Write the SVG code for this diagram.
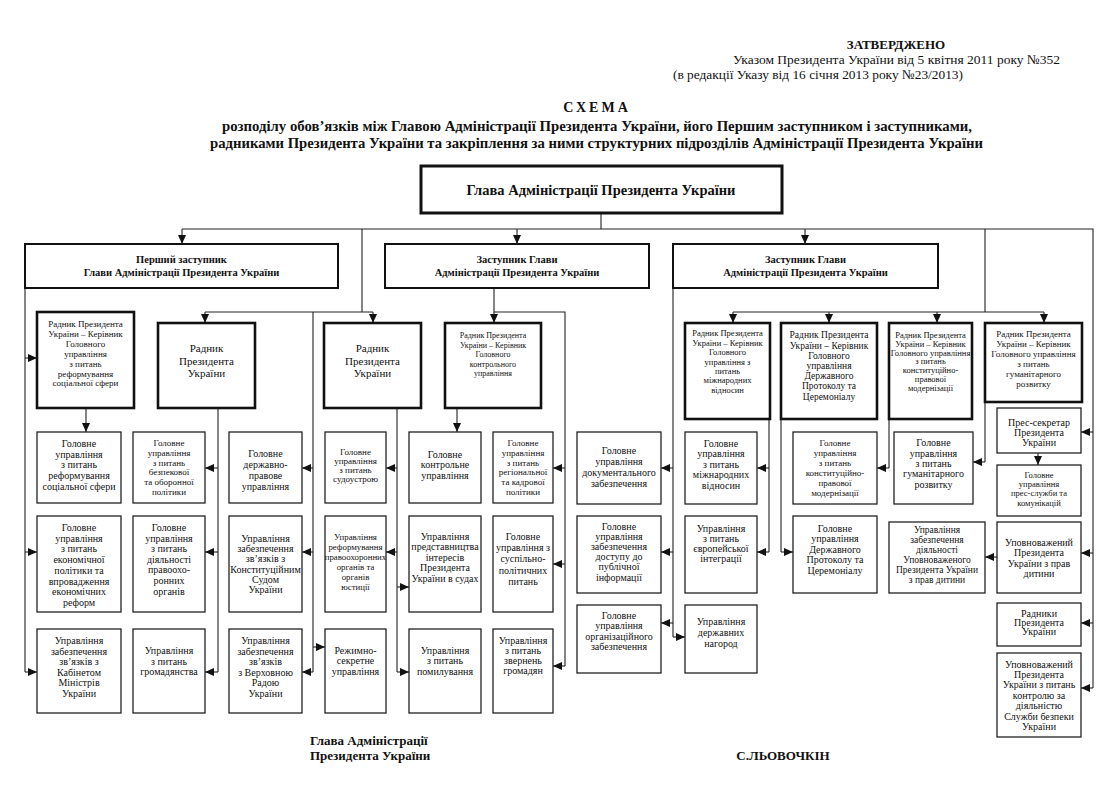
<svg xmlns="http://www.w3.org/2000/svg" width="1114" height="786" viewBox="0 0 1114 786">
<style>
text{font-family:"Liberation Serif","Times New Roman",serif;fill:#111;text-anchor:middle}
.b{fill:#fff;stroke:#222;stroke-width:1.3}
.k{fill:#fff;stroke:#111;stroke-width:2.6}
.h{fill:#fff;stroke:#111;stroke-width:3}
.m{fill:#fff;stroke:#111;stroke-width:2}
.ln{fill:none;stroke:#222;stroke-width:1.1}
.a{fill:none;stroke:#222;stroke-width:1.1;marker-end:url(#ah)}
.bd{font-weight:bold}
.f10{font-size:10px}
.f9{font-size:9px}
.f95{font-size:9.5px}
.f85{font-size:8.5px}
.f8{font-size:8px}
.f11{font-size:11px}
</style>
<defs>
<marker id="ah" viewBox="0 0 9 8" refX="9" refY="4" markerWidth="9" markerHeight="8" markerUnits="userSpaceOnUse" orient="auto">
<path d="M0,0 L9,4 L0,8 z" fill="#111"/>
</marker>
</defs>
<rect width="1114" height="786" fill="#fff"/>

<g id="header">
<text class="bd" x="896" y="49" font-size="13">ЗАТВЕРДЖЕНО</text>
<text x="896.5" y="64" font-size="13.5" textLength="327" lengthAdjust="spacingAndGlyphs">Указом Президента України від 5 квітня 2011 року №352</text>
<text x="818" y="79" font-size="13.5" textLength="290" lengthAdjust="spacingAndGlyphs">(в редакції Указу від 16 січня 2013 року №23/2013)</text>
</g>
<g id="title">
<text class="bd" x="597" y="112" font-size="14" letter-spacing="3">СХЕМА</text>
<text class="bd" x="597" y="131" font-size="14" textLength="750" lengthAdjust="spacingAndGlyphs">розподілу обов’язків між Главою Адміністрації Президента України, його Першим заступником і заступниками,</text>
<text class="bd" x="596.5" y="148" font-size="14" textLength="773" lengthAdjust="spacingAndGlyphs">радниками Президента України та закріплення за ними структурних підрозділів Адміністрації Президента України</text>
</g>

<g id="connectors">
<path class="ln" d="M601,213 V229 M182,229 H1093 V688 M985,229 V312 M733,312 H1044 M362,229 V312 M205,312 H373 M313,312 V672 M25,288 V672 M218,408 V672 M397,408 V672 M494,288 V312 H565 V666 M673,288 V637 M769,419 V552 M781,419 V552 M889,419 V468 M985,402 V462"/>
<path class="a" d="M182,229 V244"/>
<path class="a" d="M517,229 V244"/>
<path class="a" d="M805,229 V244"/>
<path class="a" d="M205,312 V323"/>
<path class="a" d="M373,312 V323"/>
<path class="a" d="M494,312 V323"/>
<path class="a" d="M733,312 V323"/>
<path class="a" d="M829,312 V323"/>
<path class="a" d="M937,312 V323"/>
<path class="a" d="M1044,312 V323"/>
<path class="a" d="M25,358 H37"/>
<path class="a" d="M25,552 H37"/>
<path class="a" d="M25,672 H37"/>
<path class="a" d="M86,408 V432"/>
<path class="a" d="M218,468 H205"/>
<path class="a" d="M218,552 H205"/>
<path class="a" d="M218,672 H205"/>
<path class="a" d="M313,468 H302"/>
<path class="a" d="M313,552 H302"/>
<path class="a" d="M313,672 H302"/>
<path class="a" d="M313,647 H325"/>
<path class="a" d="M397,468 H386"/>
<path class="a" d="M397,552 H386"/>
<path class="a" d="M397,587 H409"/>
<path class="a" d="M397,672 H409"/>
<path class="a" d="M457,408 V432"/>
<path class="a" d="M565,468 H553"/>
<path class="a" d="M565,564 H553"/>
<path class="a" d="M565,666 H553"/>
<path class="a" d="M673,468 H661"/>
<path class="a" d="M673,552 H661"/>
<path class="a" d="M673,623 H661"/>
<path class="a" d="M673,637 H685"/>
<path class="a" d="M769,468 H757"/>
<path class="a" d="M769,552 H757"/>
<path class="a" d="M781,552 H793"/>
<path class="a" d="M889,468 H877"/>
<path class="a" d="M985,462 H973"/>
<path class="a" d="M1038,453 V465"/>
<path class="a" d="M997,557 H985"/>
<path class="a" d="M1093,432 H1081"/>
<path class="a" d="M1093,553 H1081"/>
<path class="a" d="M1093,623 H1081"/>
<path class="a" d="M1093,688 H1081"/>
</g>

<g id="head"><rect class="h" x="421" y="166" width="361" height="47"/>
<text class="bd" x="601" y="195" font-size="14.5">Глава Адміністрації Президента України</text></g>

<g id="first-deputy"><rect class="m" x="25" y="244" width="313" height="44"/>
<text class="bd" x="181.5" y="263" font-size="10.5">Перший заступник<tspan x="181.5" dy="12.5">Глави Адміністрації Президента України</tspan></text></g>
<g id="deputy-1"><rect class="m" x="385" y="244" width="264" height="44"/>
<text class="bd" x="517" y="263" font-size="10.5">Заступник Глави<tspan x="517" dy="12.5">Адміністрації Президента України</tspan></text></g>
<g id="deputy-2"><rect class="m" x="673" y="244" width="265" height="44"/>
<text class="bd" x="805.5" y="263" font-size="10.5">Заступник Глави<tspan x="805.5" dy="12.5">Адміністрації Президента України</tspan></text></g>

<g id="adv-social"><rect class="k" x="37" y="312" width="97" height="96"/>
<text class="f9" x="85.5" y="327">Радник Президента<tspan x="85.5" dy="9.9">України – Керівник</tspan><tspan x="85.5" dy="9.9">Головного</tspan><tspan x="85.5" dy="9.9">управління</tspan><tspan x="85.5" dy="9.9">з питань</tspan><tspan x="85.5" dy="9.9">реформування</tspan><tspan x="85.5" dy="9.9">соціальної сфери</tspan></text></g>
<g id="adv-2"><rect class="k" x="158" y="323" width="97" height="85"/>
<text class="f11" x="206.5" y="352">Радник<tspan x="206.5" dy="12.5">Президента</tspan><tspan x="206.5" dy="12.5">України</tspan></text></g>
<g id="adv-3"><rect class="k" x="324" y="323" width="97" height="85"/>
<text class="f11" x="372.5" y="352">Радник<tspan x="372.5" dy="12.5">Президента</tspan><tspan x="372.5" dy="12.5">України</tspan></text></g>
<g id="adv-control"><rect class="k" x="445" y="323" width="96" height="85"/>
<text class="f8" x="493" y="338">Радник Президента<tspan x="493" dy="9.6">України – Керівник</tspan><tspan x="493" dy="9.6">Головного</tspan><tspan x="493" dy="9.6">контрольного</tspan><tspan x="493" dy="9.6">управління</tspan></text></g>

<g id="c1r1"><rect class="b" x="37" y="432" width="84" height="71"/>
<text class="f10" x="79" y="447">Головне<tspan x="79" dy="10.7">управління</tspan><tspan x="79" dy="10.7">з питань</tspan><tspan x="79" dy="10.7">реформування</tspan><tspan x="79" dy="10.7">соціальної сфери</tspan></text></g>
<g id="c1r2"><rect class="b" x="37" y="516" width="84" height="96"/>
<text class="f10" x="79" y="531">Головне<tspan x="79" dy="10.7">управління</tspan><tspan x="79" dy="10.7">з питань</tspan><tspan x="79" dy="10.7">економічної</tspan><tspan x="79" dy="10.7">політики та</tspan><tspan x="79" dy="10.7">впровадження</tspan><tspan x="79" dy="10.7">економічних</tspan><tspan x="79" dy="10.7">реформ</tspan></text></g>
<g id="c1r3"><rect class="b" x="37" y="629" width="84" height="84"/>
<text class="f10" x="79" y="644">Управління<tspan x="79" dy="10.6">забезпечення</tspan><tspan x="79" dy="10.6">зв’язків з</tspan><tspan x="79" dy="10.6">Кабінетом</tspan><tspan x="79" dy="10.6">Міністрів</tspan><tspan x="79" dy="10.6">України</tspan></text></g>

<g id="c2r1"><rect class="b" x="133" y="432" width="72" height="71"/>
<text class="f9" x="169" y="446">Головне<tspan x="169" dy="9.8">управління</tspan><tspan x="169" dy="9.8">з питань</tspan><tspan x="169" dy="9.8">безпекової</tspan><tspan x="169" dy="9.8">та оборонної</tspan><tspan x="169" dy="9.8">політики</tspan></text></g>
<g id="c2r2"><rect class="b" x="133" y="516" width="72" height="96"/>
<text class="f10" x="169" y="531">Головне<tspan x="169" dy="10.6">управління</tspan><tspan x="169" dy="10.6">з питань</tspan><tspan x="169" dy="10.6">діяльності</tspan><tspan x="169" dy="10.6">правоохо-</tspan><tspan x="169" dy="10.6">ронних</tspan><tspan x="169" dy="10.6">органів</tspan></text></g>
<g id="c2r3"><rect class="b" x="133" y="629" width="72" height="84"/>
<text class="f10" x="169" y="654">Управління<tspan x="169" dy="10.5">з питань</tspan><tspan x="169" dy="10.5">громадянства</tspan></text></g>

<g id="c3r1"><rect class="b" x="229" y="432" width="73" height="71"/>
<text class="f10" x="265.5" y="457">Головне<tspan x="265.5" dy="10.9">державно-</tspan><tspan x="265.5" dy="10.9">правове</tspan><tspan x="265.5" dy="10.9">управління</tspan></text></g>
<g id="c3r2"><rect class="b" x="229" y="516" width="73" height="96"/>
<text class="f10" x="265.5" y="542">Управління<tspan x="265.5" dy="10.2">забезпечення</tspan><tspan x="265.5" dy="10.2">зв’язків з</tspan><tspan x="265.5" dy="10.2">Конституційним</tspan><tspan x="265.5" dy="10.2">Судом</tspan><tspan x="265.5" dy="10.2">України</tspan></text></g>
<g id="c3r3"><rect class="b" x="229" y="629" width="73" height="84"/>
<text class="f10" x="265.5" y="644">Управління<tspan x="265.5" dy="10.6">забезпечення</tspan><tspan x="265.5" dy="10.6">зв’язків</tspan><tspan x="265.5" dy="10.6">з Верховною</tspan><tspan x="265.5" dy="10.6">Радою</tspan><tspan x="265.5" dy="10.6">України</tspan></text></g>

<g id="c4r1"><rect class="b" x="325" y="432" width="61" height="71"/>
<text class="f9" x="355.5" y="455">Головне<tspan x="355.5" dy="9.1">управління</tspan><tspan x="355.5" dy="9.1">з питань</tspan><tspan x="355.5" dy="9.1">судоустрою</tspan></text></g>
<g id="c4r2"><rect class="b" x="325" y="516" width="61" height="96"/>
<text x="355.5" y="540" font-size="8.8">Управління<tspan x="355.5" dy="9.9">реформування</tspan><tspan x="355.5" dy="9.9">правоохоронних</tspan><tspan x="355.5" dy="9.9">органів та</tspan><tspan x="355.5" dy="9.9">органів</tspan><tspan x="355.5" dy="9.9">юстиції</tspan></text></g>
<g id="c4r3"><rect class="b" x="325" y="629" width="61" height="84"/>
<text class="f10" x="355.5" y="653.5">Режимно-<tspan x="355.5" dy="10.8">секретне</tspan><tspan x="355.5" dy="10.8">управління</tspan></text></g>

<g id="c5r1"><rect class="b" x="409" y="432" width="72" height="71"/>
<text class="f10" x="445" y="458">Головне<tspan x="445" dy="10.3">контрольне</tspan><tspan x="445" dy="10.3">управління</tspan></text></g>
<g id="c5r2"><rect class="b" x="409" y="516" width="72" height="96"/>
<text class="f10" x="445" y="540">Управління<tspan x="445" dy="10.4">представництва</tspan><tspan x="445" dy="10.4">інтересів</tspan><tspan x="445" dy="10.4">Президента</tspan><tspan x="445" dy="10.4">України в судах</tspan></text></g>
<g id="c5r3"><rect class="b" x="409" y="629" width="72" height="84"/>
<text class="f10" x="445" y="653.5">Управління<tspan x="445" dy="10.8">з питань</tspan><tspan x="445" dy="10.8">помилування</tspan></text></g>

<g id="c6r1"><rect class="b" x="493" y="432" width="60" height="71"/>
<text class="f9" x="523" y="446">Головне<tspan x="523" dy="9.8">управління</tspan><tspan x="523" dy="9.8">з питань</tspan><tspan x="523" dy="9.8">регіональної</tspan><tspan x="523" dy="9.8">та кадрової</tspan><tspan x="523" dy="9.8">політики</tspan></text></g>
<g id="c6r2"><rect class="b" x="493" y="516" width="60" height="96"/>
<text class="f10" x="523" y="540">Головне<tspan x="523" dy="11.2">управління з</tspan><tspan x="523" dy="11.2">суспільно-</tspan><tspan x="523" dy="11.2">політичних</tspan><tspan x="523" dy="11.2">питань</tspan></text></g>
<g id="c6r3"><rect class="b" x="493" y="629" width="60" height="84"/>
<text class="f10" x="523" y="643.5">Управління<tspan x="523" dy="10.2">з питань</tspan><tspan x="523" dy="10.2">звернень</tspan><tspan x="523" dy="10.2">громадян</tspan></text></g>

<g id="cAr1"><rect class="b" x="577" y="432" width="84" height="72"/>
<text class="f10" x="619" y="453.5">Головне<tspan x="619" dy="11.1">управління</tspan><tspan x="619" dy="11.1">документального</tspan><tspan x="619" dy="11.1">забезпечення</tspan></text></g>
<g id="cAr2"><rect class="b" x="577" y="516" width="84" height="77"/>
<text class="f10" x="619" y="530">Головне<tspan x="619" dy="10.1">управління</tspan><tspan x="619" dy="10.1">забезпечення</tspan><tspan x="619" dy="10.1">доступу до</tspan><tspan x="619" dy="10.1">публічної</tspan><tspan x="619" dy="10.1">інформації</tspan></text></g>
<g id="cAr3"><rect class="b" x="577" y="605" width="84" height="68"/>
<text class="f10" x="619" y="618.5">Головне<tspan x="619" dy="10.6">управління</tspan><tspan x="619" dy="10.6">організаційного</tspan><tspan x="619" dy="10.6">забезпечення</tspan></text></g>

<g id="adv-intl"><rect class="k" x="685" y="323" width="85" height="96"/>
<text class="f85" x="727.5" y="336.3">Радник Президента<tspan x="727.5" dy="9.4">України – Керівник</tspan><tspan x="727.5" dy="9.4">Головного</tspan><tspan x="727.5" dy="9.4">управління з</tspan><tspan x="727.5" dy="9.4">питань</tspan><tspan x="727.5" dy="9.4">міжнародних</tspan><tspan x="727.5" dy="9.4">відносин</tspan></text></g>
<g id="adv-protocol"><rect class="k" x="781" y="323" width="96" height="96"/>
<text class="f95" x="829" y="338.3">Радник Президента<tspan x="829" dy="10.2">України – Керівник</tspan><tspan x="829" dy="10.2">Головного</tspan><tspan x="829" dy="10.2">управління</tspan><tspan x="829" dy="10.2">Державного</tspan><tspan x="829" dy="10.2">Протоколу та</tspan><tspan x="829" dy="10.2">Церемоніалу</tspan></text></g>
<g id="adv-const"><rect class="k" x="889" y="323" width="83" height="96"/>
<text class="f85" x="930.5" y="338">Радник Президента<tspan x="930.5" dy="8.8">України – Керівник</tspan><tspan x="930.5" dy="8.8">Головного управління</tspan><tspan x="930.5" dy="8.8">з питань</tspan><tspan x="930.5" dy="8.8">конституційно-</tspan><tspan x="930.5" dy="8.8">правової</tspan><tspan x="930.5" dy="8.8">модернізації</tspan></text></g>
<g id="adv-human"><rect class="k" x="985" y="323" width="97" height="79"/>
<text class="f9" x="1033.5" y="336.5">Радник Президента<tspan x="1033.5" dy="10">України – Керівник</tspan><tspan x="1033.5" dy="10">Головного управління</tspan><tspan x="1033.5" dy="10">з питань</tspan><tspan x="1033.5" dy="10">гуманітарного</tspan><tspan x="1033.5" dy="10">розвитку</tspan></text></g>

<g id="cBr1"><rect class="b" x="685" y="432" width="72" height="72"/>
<text class="f10" x="721" y="447">Головне<tspan x="721" dy="10.4">управління</tspan><tspan x="721" dy="10.4">з питань</tspan><tspan x="721" dy="10.4">міжнародних</tspan><tspan x="721" dy="10.4">відносин</tspan></text></g>
<g id="cBr2"><rect class="b" x="685" y="516" width="72" height="77"/>
<text class="f10" x="721" y="532">Управління<tspan x="721" dy="10">з питань</tspan><tspan x="721" dy="10">європейської</tspan><tspan x="721" dy="10">інтеграції</tspan></text></g>
<g id="cBr3"><rect class="b" x="685" y="605" width="72" height="68"/>
<text class="f10" x="721" y="625">Управління<tspan x="721" dy="10.8">державних</tspan><tspan x="721" dy="10.8">нагород</tspan></text></g>

<g id="cCr1"><rect class="b" x="793" y="432" width="84" height="72"/>
<text class="f9" x="835" y="446">Головне<tspan x="835" dy="10">управління</tspan><tspan x="835" dy="10">з питань</tspan><tspan x="835" dy="10">конституційно-</tspan><tspan x="835" dy="10">правової</tspan><tspan x="835" dy="10">модернізації</tspan></text></g>
<g id="cCr2"><rect class="b" x="793" y="516" width="84" height="77"/>
<text class="f10" x="835" y="532">Головне<tspan x="835" dy="10.4">управління</tspan><tspan x="835" dy="10.4">Державного</tspan><tspan x="835" dy="10.4">Протоколу та</tspan><tspan x="835" dy="10.4">Церемоніалу</tspan></text></g>

<g id="cDr1"><rect class="b" x="894" y="432" width="79" height="72"/>
<text class="f10" x="933.5" y="446.3">Головне<tspan x="933.5" dy="10.3">управління</tspan><tspan x="933.5" dy="10.3">з питань</tspan><tspan x="933.5" dy="10.3">гуманітарного</tspan><tspan x="933.5" dy="10.3">розвитку</tspan></text></g>
<g id="cDr2"><rect class="b" x="889" y="522" width="96" height="71"/>
<text class="f95" x="937" y="533.3">Управління<tspan x="937" dy="10">забезпечення</tspan><tspan x="937" dy="10">діяльності</tspan><tspan x="937" dy="10">Уповноваженого</tspan><tspan x="937" dy="10">Президента України</tspan><tspan x="937" dy="10">з прав дитини</tspan></text></g>

<g id="press-secretary"><rect class="b" x="997" y="408" width="84" height="45"/>
<text class="f10" x="1039" y="426">Прес-секретар<tspan x="1039" dy="10">Президента</tspan><tspan x="1039" dy="10">України</tspan></text></g>
<g id="press-service"><rect class="b" x="997" y="465" width="84" height="51"/>
<text class="f85" x="1039" y="478">Головне<tspan x="1039" dy="9.2">управління</tspan><tspan x="1039" dy="9.2">прес-служби та</tspan><tspan x="1039" dy="9.2">комунікацій</tspan></text></g>
<g id="ombudsman-child"><rect class="b" x="997" y="522" width="84" height="71"/>
<text class="f10" x="1039" y="546">Уповноважений<tspan x="1039" dy="10.4">Президента</tspan><tspan x="1039" dy="10.4">України з прав</tspan><tspan x="1039" dy="10.4">дитини</tspan></text></g>
<g id="advisors"><rect class="b" x="997" y="603" width="84" height="43"/>
<text class="f10" x="1039" y="617">Радники<tspan x="1039" dy="9.2">Президента</tspan><tspan x="1039" dy="9.2">України</tspan></text></g>
<g id="ombudsman-sbu"><rect class="b" x="997" y="653" width="84" height="84"/>
<text class="f10" x="1039" y="667.5">Уповноважений<tspan x="1039" dy="10.45">Президента</tspan><tspan x="1039" dy="10.45">України з питань</tspan><tspan x="1039" dy="10.45">контролю за</tspan><tspan x="1039" dy="10.45">діяльністю</tspan><tspan x="1039" dy="10.45">Служби безпеки</tspan><tspan x="1039" dy="10.45">України</tspan></text></g>

<g id="footer">
<text class="bd" x="310" y="745" font-size="13" style="text-anchor:start">Глава Адміністрації<tspan x="310" dy="15">Президента України</tspan></text>
<text class="bd" x="783" y="760" font-size="13">С.ЛЬОВОЧКІН</text>
</g>
</svg>
